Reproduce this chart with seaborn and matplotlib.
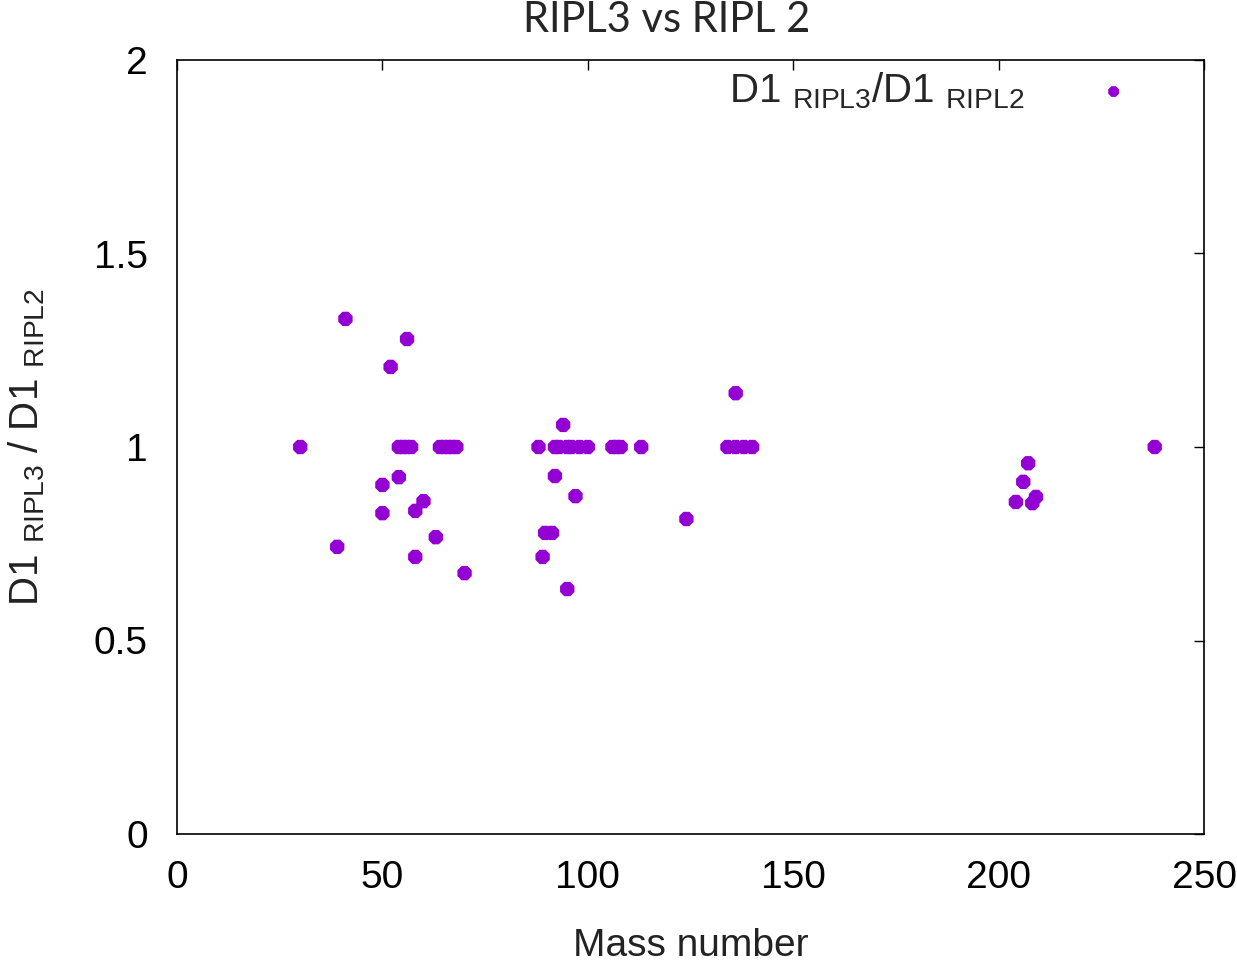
import matplotlib
matplotlib.use("Agg")
import matplotlib.pyplot as plt
import seaborn as sns
import pandas as pd

# Data
mass_number = [30, 39, 41, 50, 50, 52, 54, 56,
               54, 55, 56, 57,
               64, 65, 66, 67, 68,
               58, 60, 58, 63, 70,
               88, 94, 92, 93, 95, 96, 98, 100,
               106, 107, 108, 113,
               92, 97, 89.6, 91.3, 89, 95, 124,
               134, 136, 138, 140, 136,
               207.2, 206, 204.2, 208.2, 209.1, 238]
ratio = [1.0, 0.742, 1.331, 0.902, 0.829, 1.207, 0.922, 1.279,
         1.0, 1.0, 1.0, 1.0,
         1.0, 1.0, 1.0, 1.0, 1.0,
         0.835, 0.86, 0.716, 0.767, 0.674,
         1.0, 1.057, 1.0, 1.0, 1.0, 1.0, 1.0, 1.0,
         1.0, 1.0, 1.0, 1.0,
         0.925, 0.873, 0.778, 0.778, 0.716, 0.633, 0.814,
         1.0, 1.0, 1.0, 1.0, 1.139,
         0.958, 0.91, 0.858, 0.855, 0.871, 1.0]

x_ticks = [0, 50, 100, 150, 200, 250]
y_ticks = [0, 0.5, 1, 1.5, 2]
y_tick_labels = ["0", "0.5", "1", "1.5", "2"]

sns.set_style("white")
plt.rcParams['font.family'] = ['Liberation Sans', 'DejaVu Sans']
plt.rcParams['mathtext.fontset'] = 'custom'
plt.rcParams['mathtext.rm'] = 'Liberation Sans'
plt.rcParams['mathtext.it'] = 'Liberation Sans:italic'
plt.rcParams['mathtext.bf'] = 'Liberation Sans:bold'

df = pd.DataFrame({"A": mass_number, "ratio": ratio})

fig = plt.figure(figsize=(12.37, 9.63), dpi=100)
ax = fig.add_axes([177/1237, 1 - 834/963, (1204-177)/1237, (834-60)/963])

sns.scatterplot(data=df, x="A", y="ratio", ax=ax, color="#9400D3",
                marker="8", s=125, edgecolor="none",
                label=r'$\mathregular{D1\ _{RIPL3}/D1\ _{RIPL2}}$')

ax.set_xlim(0, 250)
ax.set_ylim(0, 2)
ax.set_xticks(x_ticks)
ax.set_yticks(y_ticks)
ax.set_yticklabels(y_tick_labels)
ax.tick_params(direction="in", length=7, width=1, top=True, right=True,
               labelsize=28, pad=19, colors="black")
ax.tick_params(axis="y", pad=21)
for sp in ax.spines.values():
    sp.set_color("black")
    sp.set_linewidth(1.2)

ax.set_xlabel("Mass number", fontsize=28, color="#222222")
ax.xaxis.set_label_coords(0.5, -0.121)
ax.set_ylabel(r'$\mathregular{D1\ _{RIPL3}\ /\ D1\ _{RIPL2}}$', fontsize=29, color="#222222")
ax.yaxis.set_label_coords(-0.127, 0.5)

leg = ax.legend(loc="upper right", frameon=False, markerfirst=False,
                fontsize=29, handletextpad=1.2, borderaxespad=0.0,
                bbox_to_anchor=(1 - 34/1027, 1 + 6/774), markerscale=0.75)

fig.text(667/1237, 1 - 20/963, "RIPL3 vs RIPL 2", ha="center", va="center",
         fontsize=30, family=["Lato", "DejaVu Sans"])

fig.savefig("out.png", dpi=100)
